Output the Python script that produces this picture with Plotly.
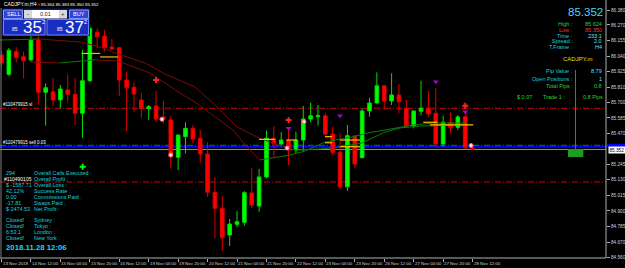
import plotly.graph_objects as go

# ---------------- data ----------------
bars = list(range(65))
opens = [86.048, 85.906, 86.073, 86.036, 86.012, 86.159, 85.774, 85.778, 85.717, 85.791,
         85.759, 85.619, 85.859, 86.216, 86.188, 86.107, 86.102, 85.864, 85.810, 85.717,
         85.653, 85.673, 85.592, 85.570, 85.295, 85.447, 85.508, 85.435, 85.319, 85.037,
         84.919, 84.722, 84.801, 84.816, 85.032, 84.936, 85.150, 85.435, 85.393, 85.420,
         85.348, 85.422, 85.577, 85.594, 85.601, 85.466, 85.332, 85.078, 85.452, 85.292,
         85.636, 85.695, 85.822, 85.710, 85.754, 85.656, 85.525, 85.634, 85.656, 85.619,
         85.393, 85.553, 85.516, 85.594, 85.364]
highs = [86.078, 86.100, 86.107, 86.073, 86.191, 86.191, 85.840, 85.877, 85.827, 85.906,
         85.877, 86.085, 86.270, 86.245, 86.233, 86.166, 86.107, 85.925, 85.847, 85.771,
         85.680, 85.783, 85.710, 85.601, 85.459, 85.553, 85.533, 85.496, 85.405, 85.147,
         85.010, 84.840, 84.899, 85.046, 85.214, 85.209, 85.491, 85.525, 85.479, 85.496,
         85.483, 85.673, 85.697, 85.680, 85.623, 85.520, 85.472, 85.533, 85.455, 85.656,
         85.734, 85.921, 85.827, 85.914, 85.835, 85.717, 85.636, 85.859, 85.783, 85.803,
         85.599, 85.626, 85.606, 85.619, 85.383]
lows = [85.960, 85.894, 85.995, 85.877, 85.999, 85.680, 85.528, 85.675, 85.656, 85.704,
        85.533, 85.439, 85.850, 86.098, 86.073, 86.085, 85.746, 85.488, 85.631, 85.586,
        85.570, 85.553, 85.545, 85.214, 85.201, 85.324, 85.398, 85.250, 85.004, 84.698,
        84.604, 84.641, 84.781, 84.791, 84.919, 84.894, 85.140, 85.299, 85.373, 85.238,
        85.324, 85.336, 85.553, 85.528, 85.454, 85.312, 85.061, 85.046, 85.218, 85.287,
        85.594, 85.690, 85.643, 85.680, 85.619, 85.520, 85.508, 85.606, 85.594, 85.373,
        85.373, 85.472, 85.496, 85.361, 85.350]
closes = [85.990, 86.083, 86.029, 86.006, 86.159, 85.774, 85.807, 85.717, 85.798, 85.759,
          85.619, 85.859, 86.245, 86.183, 86.102, 86.093, 85.864, 85.807, 85.761, 85.653,
          85.668, 85.577, 85.581, 85.299, 85.459, 85.508, 85.430, 85.319, 85.037, 84.919,
          84.702, 84.803, 84.820, 85.034, 84.943, 85.150, 85.435, 85.393, 85.422, 85.348,
          85.422, 85.577, 85.601, 85.601, 85.466, 85.332, 85.078, 85.454, 85.245, 85.636,
          85.695, 85.822, 85.710, 85.754, 85.704, 85.525, 85.636, 85.656, 85.614, 85.393,
          85.553, 85.516, 85.592, 85.364, 85.352]

tick_bars = list(range(0, 65, 4))
tick_labels = ["13 Nov 2018", "14 Nov 12:00", "15 Nov 04:00", "15 Nov 20:00", "16 Nov 12:00",
               "19 Nov 04:00", "19 Nov 20:00", "20 Nov 12:00", "21 Nov 04:00", "21 Nov 20:00",
               "22 Nov 12:00", "23 Nov 04:00", "23 Nov 20:00", "26 Nov 12:00", "27 Nov 04:00",
               "27 Nov 20:00", "28 Nov 12:00"]
price_ticks = [86.380, 86.270, 86.155, 86.040, 85.925, 85.810, 85.700, 85.585, 85.470,
               85.245, 85.130, 85.015, 84.900, 84.785, 84.670, 84.560]
price_tick_labels = ["%.3f" % v for v in price_ticks]

# moving averages (bar position, price)
ma1_x = [-0.2, 5.23, 10.67, 13.38, 15.83, 19.5, 22.21, 26.29, 29.42, 32.0, 34.71, 37.16,
         39.88, 43.27, 45.99, 48.98, 52.11, 54.14, 56.86, 62.98]
ma1_y = [86.159, 86.166, 86.144, 86.107, 86.056, 85.990, 85.908, 85.813, 85.658, 85.518,
         85.444, 85.393, 85.348, 85.356, 85.371, 85.400, 85.481, 85.511, 85.525, 85.533]
ma2_x = [3.87, 7.95, 12.70, 15.83, 20.18, 24.66, 26.29, 31.45, 33.49, 35.12, 39.2, 41.24,
         43.95, 47.62, 49.8, 52.11, 54.14, 55.91, 58.63, 62.98]
ma2_y = [85.997, 85.990, 86.012, 86.004, 85.916, 85.754, 85.702, 85.496, 85.363, 85.275,
         85.312, 85.341, 85.407, 85.444, 85.474, 85.496, 85.518, 85.533, 85.547, 85.547]
# short yellow signal segments: start bar, end bar, price
sig_x0 = [10.9, 13.4, 34.98, 38.7, 43.95, 43.95, 46.0, 46.0, 57.3, 58.2]
sig_x1 = [13.4, 15.8, 37.16, 40.15, 44.9, 44.9, 48.7, 48.7, 59.2, 64.1]
sig_p = [86.060, 86.034, 85.427, 85.422, 85.447, 85.402, 85.422, 85.373, 85.553, 85.533]

# signal markers
sell_arrow_x = [21, 39, 63]
sell_arrow_p = [85.864, 85.570, 85.675]
alert_x = [39, 46, 59, 63]
alert_p = [85.508, 85.601, 85.852, 85.631]
close_x = [21.8, 23.0, 38.8, 41.1, 63.8]
close_p = [85.575, 85.312, 85.363, 85.557, 85.382]
buy_arrow_x = [11.03]
buy_arrow_p = [85.226]

stop_loss = 85.656
take_profit = 85.113
entry_price = 85.383
ask_price = 85.372
bid_price = 85.352

pip_bar_x = 77.99
pip_bar_top = 85.938
pip_box = (76.97, 79.05, 85.297, 85.356)

# ---------------- figure ----------------
W, H = 625, 268
PW, PH = 606, 258
FONT = "Liberation Sans, Arial, sans-serif"


def px(x):
    return x / PW


def py(y):
    return 1 - y / PH


fig = go.Figure()

fig.add_trace(go.Candlestick(
    x=bars, open=opens, high=highs, low=lows, close=closes,
    increasing=dict(line=dict(color="#00e000", width=1), fillcolor="#00ff00"),
    decreasing=dict(line=dict(color="#e00000", width=1), fillcolor="#ff0000"),
    whiskerwidth=0, hoverinfo="skip", showlegend=False))


def slope_segments(xs, ys, up, down):
    segs = []
    cur = None
    for i in range(len(xs) - 1):
        col = up if ys[i + 1] >= ys[i] else down
        if col != cur:
            segs.append([col, [xs[i]], [ys[i]]])
            cur = col
        segs[-1][1].append(xs[i + 1])
        segs[-1][2].append(ys[i + 1])
    return segs


for xs, ys in ((ma1_x, ma1_y), (ma2_x, ma2_y)):
    for col, sx, sy in slope_segments(xs, ys, "#0b7a0b", "#7a0b0b"):
        fig.add_trace(go.Scatter(x=sx, y=sy, mode="lines", line=dict(color=col, width=1),
                                 hoverinfo="skip", showlegend=False))

yx, yy = [], []
for a, b, p in zip(sig_x0, sig_x1, sig_p):
    yx += [a, b, None]
    yy += [p, p, None]
fig.add_trace(go.Scatter(x=yx, y=yy, mode="lines", line=dict(color="#e8c800", width=1.2),
                         hoverinfo="skip", showlegend=False))

fig.add_trace(go.Scatter(x=sell_arrow_x, y=sell_arrow_p, mode="markers",
                         marker=dict(symbol="cross", size=5, color="#ff2020"),
                         hoverinfo="skip", showlegend=False))
fig.add_trace(go.Scatter(x=alert_x, y=alert_p, mode="markers",
                         marker=dict(symbol="triangle-down", size=5, color="#b000d0"),
                         hoverinfo="skip", showlegend=False))
fig.add_trace(go.Scatter(x=close_x, y=close_p, mode="markers",
                         marker=dict(symbol="circle", size=4, color="#ffe0e8",
                                     line=dict(color="#ff6080", width=1)),
                         hoverinfo="skip", showlegend=False))
fig.add_trace(go.Scatter(x=buy_arrow_x, y=buy_arrow_p, mode="markers",
                         marker=dict(symbol="cross", size=5, color="#00ff00"),
                         hoverinfo="skip", showlegend=False))

shapes = []
DD = "6px,2px,1px,2px"
for lvl, col, dash, wd in ((stop_loss, "#d00000", DD, 1), (take_profit, "#d00000", DD, 1),
                           (entry_price, "#00a000", DD, 1), (ask_price, "#0000ff", "solid", 2),
                           (bid_price, "#909090", "solid", 1)):
    shapes.append(dict(type="line", xref="paper", yref="y", x0=0, x1=1, y0=lvl, y1=lvl,
                       line=dict(color=col, width=wd, dash=dash), layer="below"))

shapes.append(dict(type="line", xref="x", yref="y", x0=pip_bar_x, x1=pip_bar_x,
                   y0=pip_box[3], y1=pip_bar_top, line=dict(color="#1e9e1e", width=1)))
shapes.append(dict(type="rect", xref="x", yref="y", x0=pip_box[0], x1=pip_box[1],
                   y0=pip_box[2], y1=pip_box[3], fillcolor="#1e9e1e", line=dict(width=0)))

# frame lines
shapes.append(dict(type="line", xref="paper", yref="paper", x0=1, x1=1, y0=0, y1=1,
                   line=dict(color="#b0b0b0", width=1)))
shapes.append(dict(type="line", xref="paper", yref="paper", x0=0, x1=1, y0=0, y1=0,
                   line=dict(color="#b0b0b0", width=1)))
shapes.append(dict(type="line", xref="paper", yref="paper", x0=px(1), x1=px(1), y0=0, y1=py(8),
                   line=dict(color="#808080", width=1)))


def rect(x0, x1, y0, y1, fill, line="#000000", lw=0):
    shapes.append(dict(type="rect", xref="paper", yref="paper", x0=px(x0), x1=px(x1),
                       y0=py(y1), y1=py(y0), fillcolor=fill, line=dict(color=line, width=lw)))


# one-click trading panel
rect(2, 90, 8.5, 36, "#0d1670")
rect(3.5, 22.5, 10, 18.5, "#2c46d6", "#8796ff", 1)
rect(24, 32, 10, 18.5, "#d8d8d8")
rect(32, 59, 10, 18.5, "#ffffff")
rect(59, 67, 10, 18.5, "#d8d8d8")
rect(69.5, 88.5, 10, 18.5, "#2c46d6", "#8796ff", 1)
rect(3.5, 45, 19.5, 35, "#1a2dc2", "#6f80ff", 1)
rect(47, 88.5, 19.5, 35, "#1a2dc2", "#6f80ff", 1)
# ask label box on the price scale
shapes.append(dict(type="rect", xref="paper", yref="paper", x0=px(607), x1=px(625),
                   y0=py(147.5), y1=py(144), fillcolor="#0000ff", line=dict(width=0)))

ann = []


def txt(s, x, y, color, size, anchor="left", bold=False, bg=None):
    d = dict(text=("<b>%s</b>" % s) if bold else s, x=px(x), y=py(y), xref="paper",
             yref="paper", xanchor=anchor, yanchor="middle", showarrow=False,
             font=dict(color=color, size=size, family=FONT), borderpad=0, borderwidth=0)
    if bg:
        d["bgcolor"] = bg
    ann.append(d)


# title
txt("CADJPY.m,H4", 3.5, 4, "#ffffff", 5)
txt("\u25bc", 36.5, 4, "#ff2020", 4)
txt("85.364 85.383 85.350 85.352", 41, 4, "#ffffff", 4.4)

# panel text
txt("SELL", 13, 14.5, "#ffffff", 5.5, "center")
txt("BUY", 79, 14.5, "#ffffff", 5.5, "center")
txt("-", 28, 14, "#303030", 6, "center")
txt("+", 63, 14, "#303030", 6, "center")
txt("0.01", 45.5, 14.5, "#202020", 5.5, "center")
txt("85", 15, 29.5, "#ffffff", 5, "center")
txt("35", 32, 27.5, "#ffffff", 17, "center")
txt("2", 43.3, 22, "#ffffff", 5.5, "center")
txt("85", 59.5, 29.5, "#ffffff", 5, "center")
txt("37", 74, 27.5, "#ffffff", 17, "center")
txt("2", 85, 22, "#ffffff", 5.5, "center")

# info panel
CY = "#1ecfd6"
CYV = "#55e6ff"
GR = "#32cd32"
TS = 5.5
txt("85.352", 603, 12, "#40d8f8", 11.5, "right")
rows = [("High :", "85.624", GR, GR, 24), ("Low :", "85.350", "#ff2a2a", "#ff2a2a", 29.8),
        ("Time :", "233:1", CY, CYV, 35.6), ("Spread :", "2.0", CY, CYV, 41.4),
        ("T.Frame :", "H4", CY, CYV, 47.2), ("Pip Value :", "8.79", CY, CYV, 71),
        ("Open Positions :", "1", CY, CYV, 78.5), ("Total Pips :", "0.8", GR, GR, 86)]
for lab, val, c1, c2, y in rows:
    txt(lab, 573, y, c1, TS, "right")
    txt(val, 602, y, c2, TS, "right")
txt("CADJPY.m", 578, 59.5, "#e0e000", 6, "center")
txt("$ 0.07", 532, 97, GR, TS, "right")
txt("Trade 1 :", 543, 97, GR, TS, "left")
txt("0.8 Pips", 603, 97, GR, TS, "right")

# order labels
txt("#110479915 sl", 3, 104.5, "#ffffff", 4.5)
txt("#110479915 sell 0.03", 3, 142.5, "#ffffff", 4.5)

# statistics panel
stats = [("294", "Overall Calls Executed :", 173), (None, "Overall Profit :", 179),
         ("$ -1587.71", "Overall Loss :", 185), ("42.12%", "Success Rate :", 191),
         ("0.00", "Commissions Paid :", 197), ("-17.81", "Swaps Paid :", 203),
         ("$ 2474.53", "Net Profit :", 209), ("Closed!", "Sydney :", 219.5),
         ("Closed!", "Tokyo :", 225.5), ("6:53:1", "London :", 231.5),
         ("Closed!", "New York :", 237.5)]
for v, lab, y in stats:
    if v:
        txt(v, 6, y, CY, 5.4)
    txt(lab, 34, y, CY, 5.4)
txt("#110490105", 4, 179, "#ffffff", 5)
txt("2018.11.28 12:06", 6, 247.5, "#18d8f0", 7.8, bold=True)

# x labels (left aligned at bar)
for b, lab in zip(tick_bars, tick_labels):
    ann.append(dict(text=lab, x=b, y=py(263), xref="x", yref="paper", xanchor="left",
                    yanchor="middle", showarrow=False, borderpad=0,
                    font=dict(color="#d0d0d0", size=4.4, family=FONT)))

# bid label on the price scale
ann.append(dict(text="85.352", x=px(608), y=bid_price, xref="paper", yref="y", xanchor="left",
                yanchor="middle", showarrow=False, bgcolor="#ffffff", borderpad=0.5,
                font=dict(color="#000000", size=4.7, family=FONT)))

y_top = 86.4537
y_bot = 84.5528
fig.update_layout(
    width=W, height=H, margin=dict(l=0, r=W - PW, t=0, b=H - PH),
    paper_bgcolor="#000000", plot_bgcolor="#000000", showlegend=False,
    shapes=shapes, annotations=ann,
    xaxis=dict(range=[-0.204, 82.13], showgrid=False, zeroline=False, rangeslider=dict(visible=False),
               tickmode="array", tickvals=tick_bars, ticks="outside", ticklen=3, tickcolor="#b0b0b0",
               showticklabels=False, showline=False),
    yaxis=dict(range=[y_bot, y_top], side="right", showgrid=False, zeroline=False,
               tickmode="array", tickvals=price_ticks, ticktext=price_tick_labels,
               ticks="outside", ticklen=3, tickcolor="#b0b0b0",
               tickfont=dict(color="#d0d0d0", size=4.7, family=FONT), showline=False),
)

fig.write_html("out.html")
